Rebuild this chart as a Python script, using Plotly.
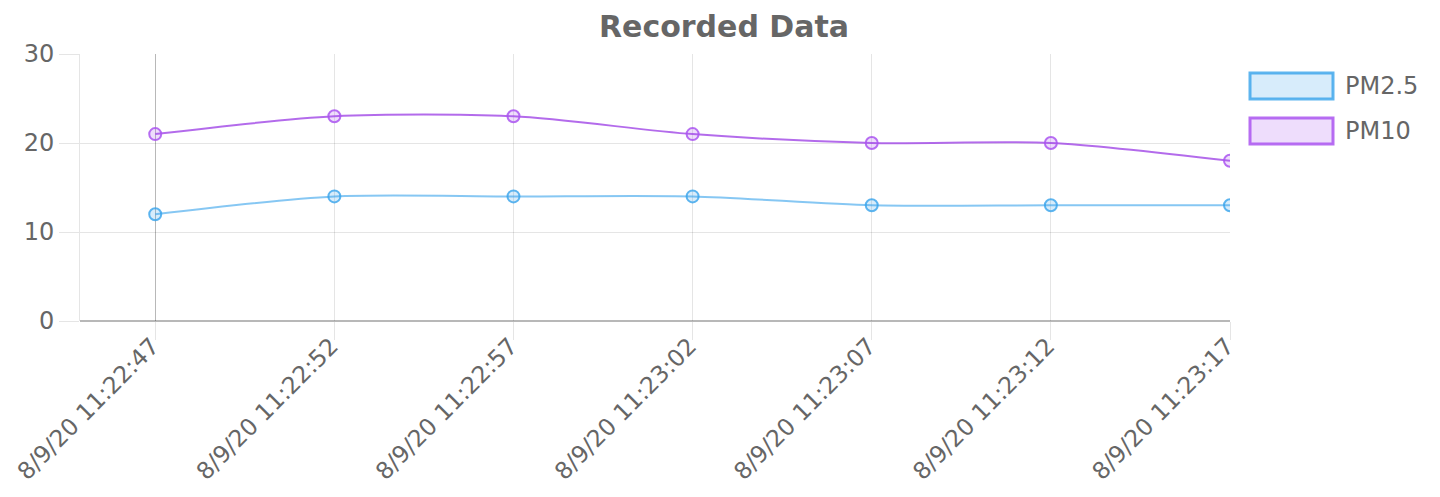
import plotly.graph_objects as go

labels = ["8/9/20 11:22:47", "8/9/20 11:22:52", "8/9/20 11:22:57", "8/9/20 11:23:02",
          "8/9/20 11:23:07", "8/9/20 11:23:12", "8/9/20 11:23:17"]
pm25 = [12, 14, 14, 14, 13, 13, 13]
pm10 = [21, 23, 23, 21, 20, 20, 18]
y_ticks = [0, 10, 20, 30]

series = [
    ("PM2.5", pm25, "rgba(54,162,235,0.6)", "rgba(54,162,235,0.8)", "rgba(54,162,235,0.2)"),
    ("PM10", pm10, "rgba(160,70,230,0.8)", "rgba(170,85,240,0.85)", "rgba(170,85,240,0.2)"),
]

FONT = "DejaVu Sans"
TXT = "#666666"
GRID = "rgba(0,0,0,0.1)"
ZERO = "rgba(0,0,0,0.28)"

fig = go.Figure()
xs = list(range(len(labels)))
for name, vals, lc, mc, fc in series:
    fig.add_trace(go.Scatter(
        x=xs, y=vals, name=name, mode="lines+markers",
        line=dict(color=lc, width=2, shape="spline", smoothing=0.8),
        marker=dict(size=12, color=fc, line=dict(color=mc, width=2)),
        showlegend=False,
    ))

# page body has an 8px margin; the figure is sized to fit inside it
OFF = 8
W, H = 1424, 481
L, T = 80 - OFF, 54 - OFF
R = W - (1230 - OFF)
B = H - (321 - OFF)
pw, ph = W - L - R, H - T - B

def px(x):
    return (x - OFF - L) / pw

def py(y):
    return (H - B - (y - OFF)) / ph

shapes = []
annotations = []
for i, (name, vals, lc, mc, fc) in enumerate(series):
    top = 73 + i * 45
    shapes.append(dict(type="rect", xref="paper", yref="paper",
                       x0=px(1250), x1=px(1333), y0=py(top + 26), y1=py(top),
                       line=dict(color=mc, width=3), fillcolor=fc))
    annotations.append(dict(text=name, xref="paper", yref="paper", x=px(1343), y=py(top + 13),
                            xanchor="left", yanchor="middle", showarrow=False,
                            font=dict(family=FONT, size=24, color=TXT)))

fig.update_layout(
    width=W, height=H,
    margin=dict(l=L, r=R, t=T, b=B, autoexpand=False),
    paper_bgcolor="white", plot_bgcolor="white",
    font=dict(family=FONT, color=TXT),
    title=dict(text="<b>Recorded Data</b>", x=(724 - OFF) / W, xref="container", xanchor="center",
               y=1 - (26 - OFF) / H, yref="container", yanchor="middle",
               font=dict(family=FONT, size=30, color=TXT)),
    xaxis=dict(range=[-0.42, len(labels) - 1], tickmode="array", tickvals=xs, ticktext=labels,
               tickangle=-45, tickfont=dict(family=FONT, size=23.5, color=TXT),
               showgrid=True, gridcolor=GRID, gridwidth=1,
               zeroline=True, zerolinecolor=ZERO, zerolinewidth=1,
               ticks="outside", ticklen=18, tickcolor=GRID,
               ticklabelshift=-3, ticklabelstandoff=-17, ticklabeloverflow="allow",
               showline=False, fixedrange=True, automargin=False),
    yaxis=dict(range=[0, 30], tickmode="array", tickvals=y_ticks,
               tickfont=dict(family=FONT, size=24, color=TXT),
               showgrid=True, gridcolor=GRID, gridwidth=1,
               zeroline=True, zerolinecolor=ZERO, zerolinewidth=2,
               ticks="outside", ticklen=20, tickcolor=GRID,
               showline=True, linecolor=GRID, linewidth=1, fixedrange=True, automargin=False),
    shapes=shapes, annotations=annotations,
)

fig.write_html("out.html")
